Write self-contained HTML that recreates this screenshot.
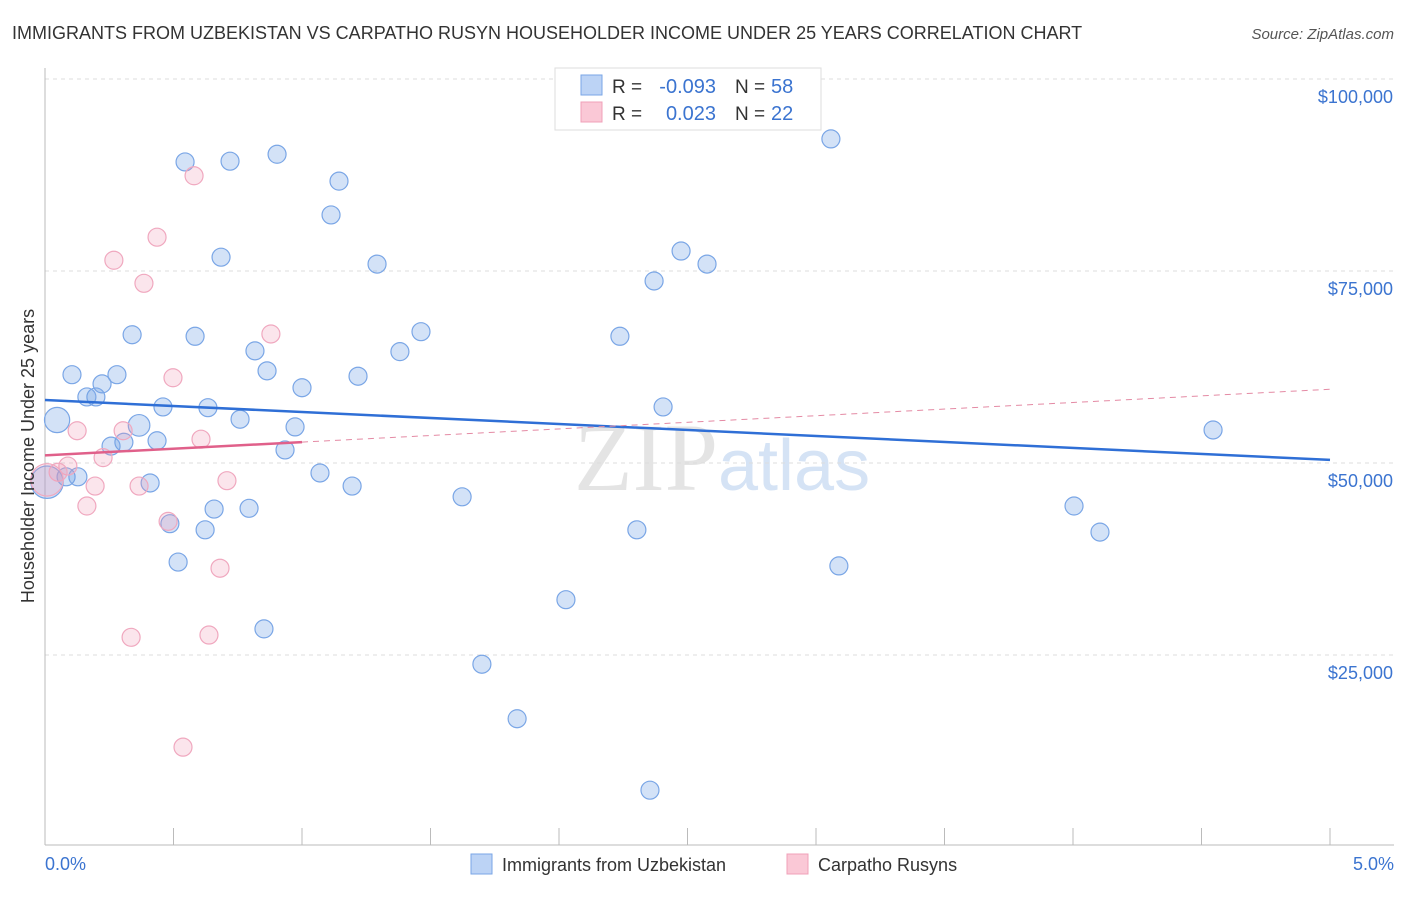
<!DOCTYPE html>
<html><head><meta charset="utf-8"><style>
body{margin:0;background:#fff;font-family:"Liberation Sans",sans-serif}
</style></head><body>
<svg id="c" width="1406" height="892" xmlns="http://www.w3.org/2000/svg">
<text x="12" y="39" font-size="18" fill="#333">IMMIGRANTS FROM UZBEKISTAN VS CARPATHO RUSYN HOUSEHOLDER INCOME UNDER 25 YEARS CORRELATION CHART</text>
<text x="1394" y="39" font-size="15" fill="#555" font-style="italic" text-anchor="end">Source: ZipAtlas.com</text>
<text x="718" y="490" font-size="96" fill="#e4e4e4" text-anchor="end" font-family="Liberation Serif">ZIP</text>
<text x="718" y="490" font-size="72" fill="#d5e3f5">atlas</text>
<g id="grid"></g><g id="axes"></g><g id="marks"></g>
<text transform="translate(34,456) rotate(-90)" font-size="18" fill="#333" text-anchor="middle">Householder Income Under 25 years</text>
<text x="45" y="870" font-size="18" fill="#3b74d0">0.0%</text>
<text x="1394" y="870" font-size="18" fill="#3b74d0" text-anchor="end">5.0%</text>
<g>
<rect x="555" y="68" width="266" height="62" fill="#fff" stroke="#ddd"/>
<rect x="581" y="75" width="21" height="20" fill="#bcd3f5" stroke="#7aa6e6"/>
<rect x="581" y="102" width="21" height="20" fill="#fac8d6" stroke="#f0a0b8"/>
<text x="612" y="93" font-size="19" fill="#333">R =</text>
<text x="716" y="93" font-size="20" fill="#3b74d0" text-anchor="end">-0.093</text>
<text x="735" y="93" font-size="19" fill="#333">N =</text>
<text x="771" y="93" font-size="20" fill="#3b74d0">58</text>
<text x="612" y="120" font-size="19" fill="#333">R =</text>
<text x="716" y="120" font-size="20" fill="#3b74d0" text-anchor="end">0.023</text>
<text x="735" y="120" font-size="19" fill="#333">N =</text>
<text x="771" y="120" font-size="20" fill="#3b74d0">22</text>
</g>
<g>
<rect x="471" y="854" width="21" height="20" fill="#bcd3f5" stroke="#7aa6e6"/>
<text x="502" y="871" font-size="18" fill="#333">Immigrants from Uzbekistan</text>
<rect x="787" y="854" width="21" height="20" fill="#fac8d6" stroke="#f0a0b8"/>
<text x="818" y="871" font-size="18" fill="#333">Carpatho Rusyns</text>
</g>
</svg>
<script>
const yTicks=[25000,50000,75000,100000];
const yTickLabels=["$25,000","$50,000","$75,000","$100,000"];
const blueX=[.545,.720,.903,1.144,1.113,.685,1.292,.339,.584,1.463,1.381,.817,.864,.105,.280,.222,1.000,1.218,.198,.163,.459,.634,.047,.366,.759,.973,.307,.436,.257,.934,.082,.128,.409,1.070,1.195,.658,.794,.486,.623,.518,.852,1.623,1.700,1.837,2.027,2.303,2.354,2.237,2.370,2.475,2.576,2.405,3.058,3.089,4.004,4.105,4.545,.008];
const blueY=[89.2,89.3,90.2,86.7,82.3,76.8,75.9,66.7,66.5,67.1,64.5,64.6,62.0,61.5,61.5,60.3,59.8,61.3,58.6,58.6,57.3,57.2,55.6,54.9,55.7,54.7,52.7,52.9,52.2,51.7,48.2,48.2,47.4,48.7,47.0,44.0,44.1,42.1,41.3,37.1,28.4,45.6,23.8,16.7,32.2,41.3,7.4,66.5,73.7,77.6,75.9,57.3,92.2,36.6,44.4,41.0,54.3,47.5];
const blueSize=[1,1,1,1,1,1,1,1,1,1,1,1,1,1,1,1,1,1,1,1,1,1,1.4,1.2,1,1,1,1,1,1,1,1,1,1,1,1,1,1,1,1,1,1,1,1,1,1,1,1,1,1,1,1,1,1,1,1,1,1.8];
const pinkX=[.580,.436,.268,.385,.879,.498,.125,.304,.607,.226,.089,.051,.195,.366,.708,.163,.479,.681,.335,.638,.537,.008];
const pinkY=[87.4,79.4,76.4,73.4,66.8,61.1,54.2,54.2,53.1,50.7,49.6,48.8,47.0,47.0,47.7,44.4,42.4,36.3,27.3,27.6,13.0,47.8];
const pinkSize=[1,1,1,1,1,1,1,1,1,1,1,1,1,1,1,1,1,1,1,1,1,1.8];
const blueTrend=[58.2,50.4];
const pinkTrend=[51.0,59.6];
const pinkSolidEnd=1.0;
const NS='http://www.w3.org/2000/svg';
const X=p=>45+p/5*1285;
const Y=v=>847-v*192/25000;
function mk(parent,tag,attrs){const e=document.createElementNS(NS,tag);for(const k in attrs)e.setAttribute(k,attrs[k]);document.getElementById(parent).appendChild(e);return e;}
yTicks.forEach((t,i)=>{
 const l=mk('grid','line',{x1:45,x2:1394,y1:Y(t),y2:Y(t),stroke:'#ddd','stroke-dasharray':'4,4'});
 
 
 const tx=mk('grid','text',{x:1393,y:Y(t)+24,'font-size':18,fill:'#3b74d0','text-anchor':'end'});
 tx.textContent=yTickLabels[i];
 
 
});
const ax=mk('axes','line',{x1:45,x2:1394,y1:845,y2:845,stroke:'#bbb'});


const ay=mk('axes','line',{x1:45,x2:45,y1:68,y2:845,stroke:'#bbb'});


for(let i=1;i<=10;i++){const t=mk('axes','line',{x1:X(i*.5),x2:X(i*.5),y1:828,y2:845,stroke:'#bbb'});
 
 }
function pts(xs,ys,sz,fill,stroke,name){xs.forEach((x,i)=>{
 const c=mk('marks','circle',{cx:X(x),cy:Y(ys[i]*1000),r:9*sz[i],fill:fill,stroke:stroke,'stroke-width':1.2});
 
 });}
pts(blueX,blueY,blueSize,'rgba(110,160,230,0.3)','#7aa6e6','uzbekistan-point');
pts(pinkX,pinkY,pinkSize,'rgba(240,150,180,0.25)','#f0a8bf','carpatho-rusyn-point');
const bt=mk('marks','line',{x1:X(0),x2:X(5),y1:Y(blueTrend[0]*1000),y2:Y(blueTrend[1]*1000),stroke:'#2f6fd6','stroke-width':2.5});


const pm=pinkTrend[0]+(pinkTrend[1]-pinkTrend[0])*pinkSolidEnd/5;
const pd=mk('marks','line',{x1:X(pinkSolidEnd),x2:X(5),y1:Y(pm*1000),y2:Y(pinkTrend[1]*1000),stroke:'#e48aa4','stroke-width':1,'stroke-dasharray':'6,5'});


const ps=mk('marks','line',{x1:X(0),x2:X(pinkSolidEnd),y1:Y(pinkTrend[0]*1000),y2:Y(pm*1000),stroke:'#e0608a','stroke-width':2.5});


const topGrid=mk('grid','line',{x1:45,x2:1394,y1:Y(100000),y2:Y(100000),stroke:'#ddd','stroke-dasharray':'4,4'});


</script>
</body></html>
